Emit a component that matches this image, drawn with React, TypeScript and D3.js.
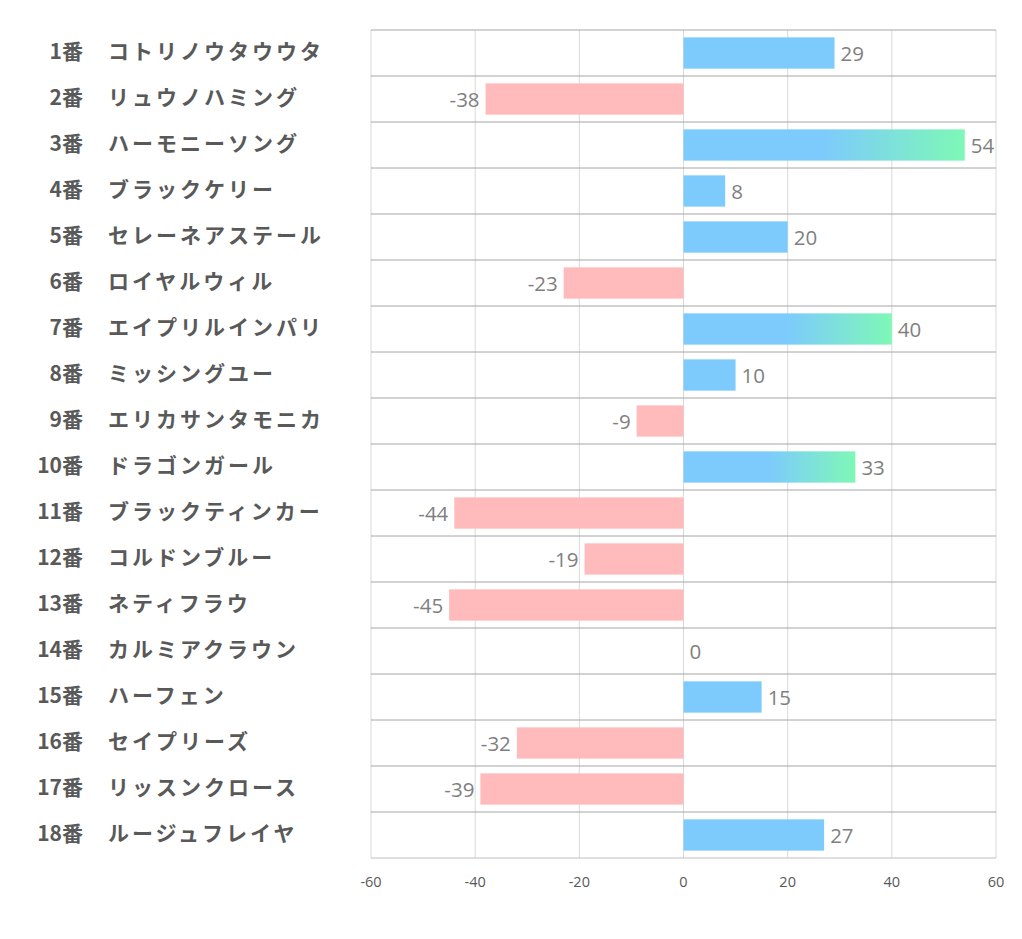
import React from "react";
import * as d3 from "d3";

const numbers = ["1番","2番","3番","4番","5番","6番","7番","8番","9番","10番","11番","12番","13番","14番","15番","16番","17番","18番"];
const names = ["コトリノウタウウタ","リュウノハミング","ハーモニーソング","ブラックケリー","セレーネアステール","ロイヤルウィル","エイプリルインパリ","ミッシングユー","エリカサンタモニカ","ドラゴンガール","ブラックティンカー","コルドンブルー","ネティフラウ","カルミアクラウン","ハーフェン","セイプリーズ","リッスンクロース","ルージュフレイヤ"];
const values = [29,-38,54,8,20,-23,40,10,-9,33,-44,-19,-45,0,15,-32,-39,27];
const ticks = [-60,-40,-20,0,20,40,60];

const W = 1022, H = 939;
const left = 371, right = 996, top = 30, bottom = 858;

export default function App() {
  const x = d3.scaleLinear().domain([-60, 60]).range([left, right]);
  const y = d3.scaleBand<number>().domain(d3.range(values.length)).range([top, bottom]).paddingInner(0).paddingOuter(0);
  const bw = y.bandwidth();
  const barH = bw * 0.68;
  const jp = "'Noto Sans CJK JP', 'Noto Sans', sans-serif";
  const num = "'Open Sans', 'Noto Sans', sans-serif";
  return (
    <svg width={W} height={H} style={{ position: "absolute", left: 0, top: 0, background: "#fff" }}>
      <defs>
        <linearGradient id="grad" x1="0" x2="1" y1="0" y2="0">
          <stop offset="0" stopColor="#7DCBFC" />
          <stop offset="0.5" stopColor="#7DCBFC" />
          <stop offset="1" stopColor="#7EF8B6" />
        </linearGradient>
      </defs>
      {ticks.map((t) => (
        <line key={"v" + t} x1={x(t)} x2={x(t)} y1={top} y2={bottom} stroke="#D9D9D9" strokeWidth={1} />
      ))}
      {d3.range(values.length + 1).map((i) => (
        <line key={"h" + i} x1={left} x2={right} y1={top + i * bw} y2={top + i * bw}
          stroke={i === values.length ? "#BFBFBF" : "#A6A6A6"} strokeWidth={1} />
      ))}
      {values.map((v, i) => {
        const x0 = x(Math.min(0, v));
        const w = Math.abs(x(v) - x(0));
        const yy = (y(i) as number) + (bw - barH) / 2;
        const fill = v < 0 ? "#FFBBBB" : v > 30 ? "url(#grad)" : "#7DCBFC";
        return w > 0 ? <rect key={"b" + i} x={x0} y={yy} width={w} height={barH} fill={fill} /> : null;
      })}
      {values.map((v, i) => {
        const cy = (y(i) as number) + bw / 2;
        const isNeg = v < 0;
        return (
          <text key={"l" + i} x={isNeg ? x(v) - 6 : x(v) + 6} y={cy + 8}
            textAnchor={isNeg ? "end" : "start"} fontFamily={num} fontSize={20.5} fill="#7F7F7F">
            {v}
          </text>
        );
      })}
      {values.map((_, i) => {
        const cy = (y(i) as number) + bw / 2;
        return (
          <g key={"c" + i}>
            <text x={83} y={cy + 6} textAnchor="end" fontFamily={jp} fontWeight="bold" fontSize={21} fill="#595959">
              {numbers[i]}
            </text>
            <text x={108} y={cy + 6} fontFamily={jp} fontWeight="bold" fontSize={21} letterSpacing={3} fill="#595959">
              {names[i]}
            </text>
          </g>
        );
      })}
      {ticks.map((t) => (
        <text key={"t" + t} x={x(t)} y={887} textAnchor="middle" fontFamily={num} fontSize={14.5} fill="#595959">
          {t}
        </text>
      ))}
    </svg>
  );
}
